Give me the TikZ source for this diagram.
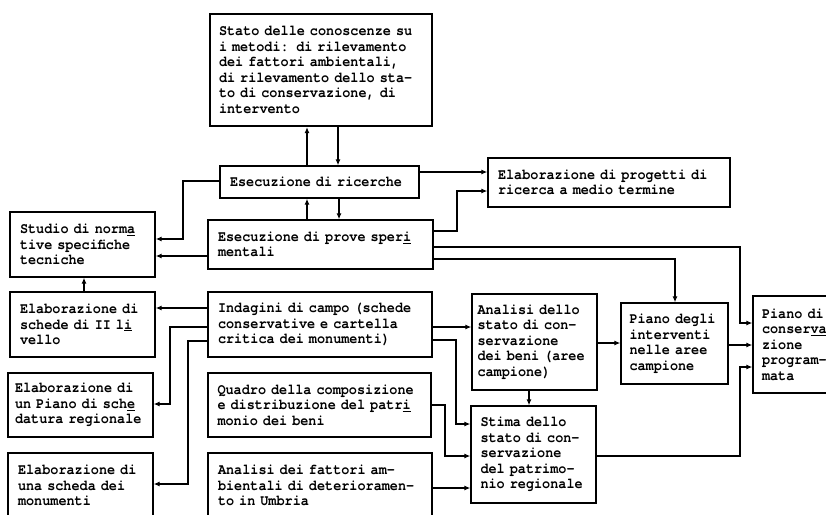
\documentclass[tikz,border=0pt]{standalone}
\usepackage{fontspec}
\newfontfamily\tw{texgyrecursor-bold.otf}[FakeStretch=0.9]
\usetikzlibrary{arrows.meta}
\begin{document}
\begin{tikzpicture}[x=1pt,y=-1pt,
  box/.style={draw, line width=1.3pt, align=left, inner ysep=0pt,
    font=\tw\fontsize{15}{15.5}\selectfont},
  arr/.style={line width=1.2pt, -{Latex[length=6pt,width=5pt]}},
  ln/.style={line width=1.2pt}]
\useasboundingbox (0,0) rectangle (826,514);
\clip (0,0) rectangle (826,514);
\fill[white] (0,0) rectangle (826,514);

% boxes
\node[box, line width=2.2pt, minimum width=222pt, minimum height=112pt, inner xsep=9pt, text width=204pt] (stato) at (321,70)
 {Stato delle conoscenze su\\i metodi: di rilevamento\\dei fattori ambientali,\\di rilevamento dello sta-\\to di conservazione, di\\intervento};
\node[box, minimum width=199pt, minimum height=32pt, inner xsep=10pt, text width=179pt] (ric) at (319.5,182)
 {Esecuzione di ricerche};
\node[box, minimum width=225pt, minimum height=49pt, inner xsep=10pt, text width=205pt] (prove) at (320.5,244.5)
 {Esecuzione di prove sper\underline{i}\\mentali};
\node[box, minimum width=242pt, minimum height=49pt, inner xsep=10pt, text width=222pt] (prog) at (609,182.5)
 {Elaborazione di progetti di\\ricerca a medio termine};
\node[box, minimum width=145pt, minimum height=65pt, inner xsep=10pt, text width=125pt] (studio) at (82.5,244.5)
 {Studio di norm\underline{a}\\tive specifiche\\tecniche};
\node[box, minimum width=145pt, minimum height=65pt, inner xsep=10pt, text width=125pt] (schede) at (82.5,324.5)
 {Elaborazione di\\schede di II l\underline{i}\\vello};
\node[box, minimum width=145pt, minimum height=64pt, inner xsep=7pt, text width=131pt] (schedreg) at (80.5,405)
 {Elaborazione di\\un Piano di sch\underline{e}\\datura regionale};
\node[box, minimum width=145pt, minimum height=65pt, inner xsep=10pt, text width=125pt] (unasch) at (80.5,485.5)
 {Elaborazione di\\una scheda dei\\monumenti};
\node[box, minimum width=224pt, minimum height=65pt, inner xsep=10pt, text width=204pt] (ind) at (320,324.5)
 {Indagini di campo (schede\\conservative e cartella\\critica dei monumenti)};
\node[box, minimum width=223pt, minimum height=64pt, inner xsep=9.5pt, text width=204pt] (quadro) at (319.5,405)
 {Quadro della composizione\\e distribuzione del patr\underline{i}\\monio dei beni};
\node[box, minimum width=224pt, minimum height=65pt, inner xsep=10pt, text width=204pt] (fatt) at (320,485.5)
 {Analisi dei fattori am-\\bientali di deterioramen-\\to in Umbria};
\node[box, minimum width=125pt, minimum height=96pt, inner xsep=5.5pt, text width=114pt] (astato) at (534.5,342)
 {Analisi dello\\stato di con-\\servazione\\dei beni (aree\\campione)};
\node[box, minimum width=125pt, minimum height=97pt, inner xsep=9.5pt, text width=106pt] (stima) at (533.5,454.5)
 {Stima dello\\stato di con-\\servazione\\del patrimo-\\nio regionale};
\node[box, minimum width=107pt, minimum height=81pt, inner xsep=8.5pt, text width=90pt] (pint) at (674.5,343.5)
 {Piano degli\\interventi\\nelle aree\\campione};
\node[box, minimum width=100pt, minimum height=97pt, inner xsep=9pt, text width=82pt] (pcons) at (803,344.5)
 {Piano di\\conser\underline{va}\\zione\\program-\\mata};

% connectors
\draw[arr] (ric.north -| 307,0) -- (stato.south -| 307,0);
\draw[arr] (stato.south -| 338,0) -- (ric.north -| 338,0);
\draw[arr] (prove.north -| 307,0) -- (ric.south -| 307,0);
\draw[arr] (ric.south -| 339,0) -- (prove.north -| 339,0);
\draw[arr] (ric.east |- 0,172) -- (prog.west |- 0,172);
\draw[arr] (prove.east |- 0,231) -| (457,191) -- (prog.west |- 0,191);
\draw[arr] (ric.west |- 0,181) -| (183,239) -- (studio.east |- 0,239);
\draw[arr] (prove.west |- 0,256) -- (studio.east |- 0,256);
\draw[arr] (prove.east |- 0,247) -| (740,323) -- (pcons.west |- 0,323);
\draw[arr] (prove.east |- 0,259) -| (pint.north -| 675,0);
\draw[arr] (schede.north -| 84,0) -- (studio.south -| 84,0);
\draw[arr] (ind.west |- 0,308) -- (schede.east |- 0,308);
\draw[arr] (ind.west |- 0,327) -| (170,404) -- (schedreg.east |- 0,404);
\draw[arr] (ind.west |- 0,341) -| (188,484) -- (unasch.east |- 0,484);
\draw[arr] (ind.east |- 0,327) -- (astato.west |- 0,327);
\draw[arr] (ind.east |- 0,340) -| (456,424) -- (stima.west |- 0,424);
\draw[arr] (quadro.east |- 0,405) -| (445,456) -- (stima.west |- 0,456);
\draw[arr] (fatt.east |- 0,488) -- (stima.west |- 0,488);
\draw[arr] (astato.south -| 529,0) -- (stima.north -| 529,0);
\draw[arr] (astato.east |- 0,343) -- (pint.west |- 0,343);
\draw[arr] (pint.east |- 0,345) -- (pcons.west |- 0,345);
\draw[arr] (stima.east |- 0,456) -| (740,367) -- (pcons.west |- 0,367);
\end{tikzpicture}
\end{document}
